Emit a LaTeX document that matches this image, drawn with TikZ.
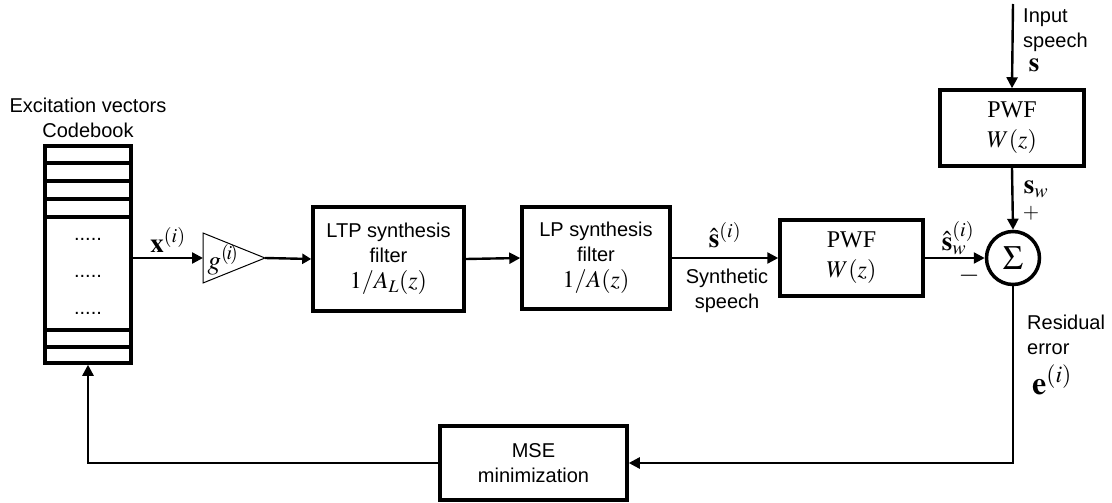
\documentclass[tikz,border=0pt]{standalone}
\usepackage{mathptmx}
\usepackage{fontspec}
\setmainfont{Liberation Serif}
\setsansfont{Liberation Sans}
\usetikzlibrary{arrows.meta}
\tikzset{
  blk/.style={draw, line width=3.5pt, align=center, inner sep=0pt},
  conn/.style={line width=2.4pt, -{Triangle[length=11pt,width=11pt]}},
  sans/.style={font=\fontsize{20}{25}\selectfont\sffamily},
  serif/.style={font=\fontsize{24}{30}\selectfont\rmfamily},
  lbl/.style={inner sep=0pt}
}
\newcommand{\mth}[1]{{\fontsize{27}{27}\selectfont$#1$}}
\begin{document}
\begin{tikzpicture}[x=1pt,y=-1pt,sans]
\useasboundingbox (0,0) rectangle (1112,503);
% codebook
\node[draw, line width=3.5pt, minimum width=86pt, minimum height=217pt, inner sep=0pt] (cb) at (88,254.5) {};
\foreach \yy in {163,181,199,217,330,347}
  \draw[line width=3.5pt] (cb.west |- 0,\yy) -- (cb.east |- 0,\yy);
\foreach \yy in {239,276,313}
  \node[lbl] at (88,\yy) {.....};
\node[lbl, align=center] (cbt) at (88,118) {Excitation vectors\\Codebook};
% gain triangle
\coordinate (gin) at (203,258);
\coordinate (gout) at (265,258);
\draw[line width=1pt] (203,233) -- (gout) -- (203,283) -- cycle;
\node[lbl] (g) at (223,260) {\fontsize{27}{27}\selectfont$g^{(\!i\!)}$};
% blocks
\node[blk, sans, minimum width=151pt, minimum height=104pt] (ltp) at (388.5,259)
  {LTP synthesis\\filter\\[1pt]{\rmfamily\fontsize{24}{24}\selectfont$1/A_L(z)$}};
\node[blk, sans, minimum width=148pt, minimum height=102pt] (lp) at (596,258)
  {LP synthesis\\filter\\[1pt]{\rmfamily\fontsize{24}{24}\selectfont$1/A(z)$}};
\node[blk, serif, minimum width=143pt, minimum height=76pt] (pwf2) at (851.5,258) {PWF\\$W(z)$};
\node[blk, serif, minimum width=144pt, minimum height=76pt] (pwf1) at (1012,128) {PWF\\$W(z)$};
\node[circle, draw, line width=3.5pt, minimum size=53pt, inner sep=0pt] (sum) at (1013,258)
  {\fontsize{34}{34}\selectfont$\Sigma$};
\node[blk, sans, minimum width=187pt, minimum height=74pt, align=center] (mse) at (533.5,463)
  {MSE\\minimization};
% input
\coordinate (in) at (1013,4);
\node[lbl, anchor=west, align=left] (inl) at (1023,30) {Input\\speech};
\node[lbl] (sl) at (1034,65) {\mth{\mathbf{s}}};
% labels
\node[lbl] (xl) at (168,240) {\mth{\mathbf{x}^{(i)}}};
\node[lbl] (shl) at (725,235) {\mth{\hat{\mathbf{s}}^{(i)}}};
\node[lbl, align=center] (synl) at (727,291) {Synthetic\\speech};
\node[lbl] (swhl) at (958,238) {\mth{\hat{\mathbf{s}}_w^{(i)}}};
\node[lbl] (minus) at (969,276) {\mth{-}};
\node[lbl] (swl) at (1036,189) {\mth{\mathbf{s}_w}};
\node[lbl] (plus) at (1031,213) {{\fontsize{21}{21}\selectfont$+$}};
\node[lbl, anchor=west, align=left] (resl) at (1027,335) {Residual\\error};
\node[lbl, anchor=west] (el) at (1032,380) {{\fontsize{32}{32}\selectfont$\mathbf{e}^{(i)}$}};
% connectors
\draw[conn] (cb.east |- gin) -- (gin);
\draw[line width=2.4pt, -{Triangle[length=9pt,width=10pt]}] (gout) -- (ltp.west);
\draw[conn] (ltp.east) -- (lp.west);
\draw[conn] (lp.east) -- (pwf2.west);
\draw[conn] (pwf2.east) -- (sum.west);
\draw[conn] (in) -- (pwf1.north);
\draw[conn] (pwf1.south) -- (sum.north);
\draw[conn] (sum.south) |- (mse.east);
\draw[conn] (mse.west) -| (cb.south);
\end{tikzpicture}
\end{document}
